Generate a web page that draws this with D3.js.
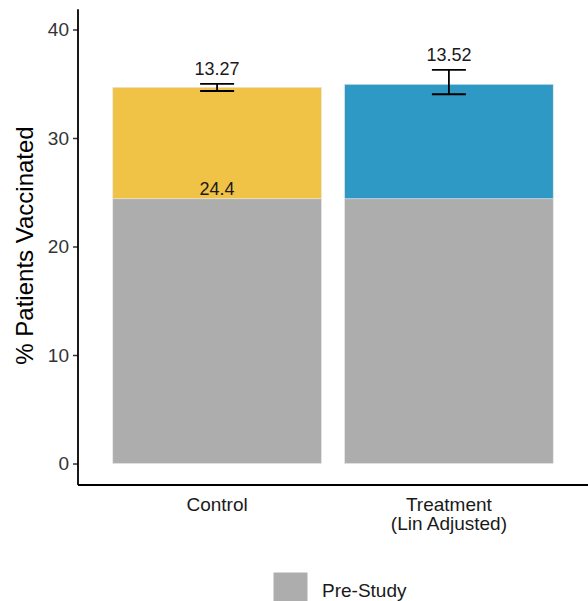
<!DOCTYPE html>
<html>
<head>
<meta charset="utf-8">
<script src="https://cdn.jsdelivr.net/npm/d3@7"></script>
<style>
  body { margin: 0; background: #fff; }
  svg { display: block; font-family: "Liberation Sans", Arial, sans-serif; }
</style>
</head>
<body>
<div id="chart-container"></div>
<script>
const width = 588;
const height = 601;

// data
const groups = ["Control", "Treatment|(Lin Adjusted)"];
const preStudy = [24.4, 24.4];
const studyGain = [10.27, 10.55];
const errLow = [34.33, 34.03];
const errHigh = [34.98, 36.27];
const topLabels = ["13.27", "13.52"];
const baseLabels = ["24.4", ""];
const groupColors = ["#F0C246", "#2E99C4"];
const yTicks = [0, 10, 20, 30, 40];
const legendLabel = "Pre-Study";

const axisLeftX = 78;
const axisBottomY = 485;

const svg = d3.select("#chart-container").append("svg")
  .attr("width", width)
  .attr("height", height);

//Defines the scales
const y = d3.scaleLinear()
  .domain([-1.98, 41.86])
  .range([axisBottomY, 9.3]);

const x = d3.scaleBand()
  .domain(groups)
  .range([axisLeftX + 0.6 * 231.8 - 115.9, width])
  .paddingInner(0.1)
  .paddingOuter(0.05);

// ggplot-like discrete positions: centers at 1 and 2 on a 0.4..2.6 range
const xc = d3.scaleLinear().domain([0.4, 2.6]).range([axisLeftX, width]);
const barW = xc(1.45) - xc(1);
const center = (i) => xc(i + 1);

let g = svg.append("g");

// grey pre-study bars
g.selectAll(".pre")
  .data(groups)
  .enter().append("rect")
  .attr("class", "pre")
  .attr("x", (d, i) => center(i) - barW)
  .attr("width", barW * 2)
  .attr("y", (d, i) => y(preStudy[i]))
  .attr("height", (d, i) => y(0) - y(preStudy[i]))
  .attr("fill", "#ADADAD")
  .attr("stroke", "#e6e6e6")
  .attr("stroke-width", 0.6);

// coloured study bars stacked on top
g.selectAll(".gain")
  .data(groups)
  .enter().append("rect")
  .attr("class", "gain")
  .attr("x", (d, i) => center(i) - barW)
  .attr("width", barW * 2)
  .attr("y", (d, i) => y(preStudy[i] + studyGain[i]))
  .attr("height", (d, i) => y(preStudy[i]) - y(preStudy[i] + studyGain[i]))
  .attr("fill", (d, i) => groupColors[i])
  .attr("stroke", "#e6e6e6")
  .attr("stroke-width", 0.6);

// error bars
const whisker = 17;
groups.forEach((d, i) => {
  const cx = center(i);
  const eg = g.append("g")
    .attr("stroke", "#000")
    .attr("stroke-width", 1.8);
  eg.append("line")
    .attr("x1", cx).attr("x2", cx)
    .attr("y1", y(errLow[i])).attr("y2", y(errHigh[i]));
  eg.append("line")
    .attr("x1", cx - whisker).attr("x2", cx + whisker)
    .attr("y1", y(errLow[i])).attr("y2", y(errLow[i]));
  eg.append("line")
    .attr("x1", cx - whisker).attr("x2", cx + whisker)
    .attr("y1", y(errHigh[i])).attr("y2", y(errHigh[i]));
});

// value labels
g.selectAll(".toplab")
  .data(groups)
  .enter().append("text")
  .attr("class", "toplab")
  .attr("x", (d, i) => center(i))
  .attr("y", (d, i) => y(errHigh[i]) - 8.5)
  .attr("text-anchor", "middle")
  .attr("font-size", 18)
  .attr("fill", "#1a1a1a")
  .text((d, i) => topLabels[i]);

g.selectAll(".baselab")
  .data(groups)
  .enter().append("text")
  .attr("class", "baselab")
  .attr("x", (d, i) => center(i))
  .attr("y", (d, i) => y(preStudy[i]) - 4)
  .attr("text-anchor", "middle")
  .attr("font-size", 18)
  .attr("fill", "#1a1a1a")
  .text((d, i) => baseLabels[i]);

// y axis
const gAxis = svg.append("g");
const yAxis = gAxis.append("g")
  .attr("transform", `translate(${axisLeftX},0)`)
  .call(d3.axisLeft(y).tickValues(yTicks).tickSize(5).tickPadding(4))
  .call(a => a.select(".domain").remove());
yAxis.selectAll(".tick line").attr("stroke", "#333").attr("stroke-width", 1.5);
yAxis.selectAll(".tick text")
  .attr("font-size", 19)
  .attr("fill", "#333")
  .attr("font-family", "Liberation Sans, Arial, sans-serif");

gAxis.append("line")
  .attr("x1", axisLeftX).attr("x2", axisLeftX)
  .attr("y1", y.range()[1]).attr("y2", axisBottomY)
  .attr("stroke", "#000").attr("stroke-width", 1.8);
gAxis.append("line")
  .attr("x1", axisLeftX).attr("x2", width)
  .attr("y1", axisBottomY).attr("y2", axisBottomY)
  .attr("stroke", "#000").attr("stroke-width", 1.8);

// x labels
groups.forEach((d, i) => {
  const t = gAxis.append("text")
    .attr("x", center(i))
    .attr("y", 510.5)
    .attr("text-anchor", "middle")
    .attr("font-size", 19)
    .attr("fill", "#1a1a1a");
  d.split("|").forEach((line, k) => {
    t.append("tspan")
      .attr("x", center(i))
      .attr("dy", k === 0 ? 0 : 19.5)
      .text(line);
  });
});

// y title
svg.append("text")
  .attr("transform", `translate(33,${(123 + 368) / 2}) rotate(-90)`)
  .attr("text-anchor", "middle")
  .attr("font-size", 24)
  .attr("fill", "#000")
  .text("% Patients Vaccinated");

// legend
const legend = svg.append("g");
legend.append("rect")
  .attr("x", 273.5).attr("y", 572.5)
  .attr("width", 34).attr("height", 34)
  .attr("fill", "#ADADAD");
legend.append("text")
  .attr("x", 322).attr("y", 597)
  .attr("font-size", 19)
  .attr("fill", "#1a1a1a")
  .text(legendLabel);
</script>
</body>
</html>
